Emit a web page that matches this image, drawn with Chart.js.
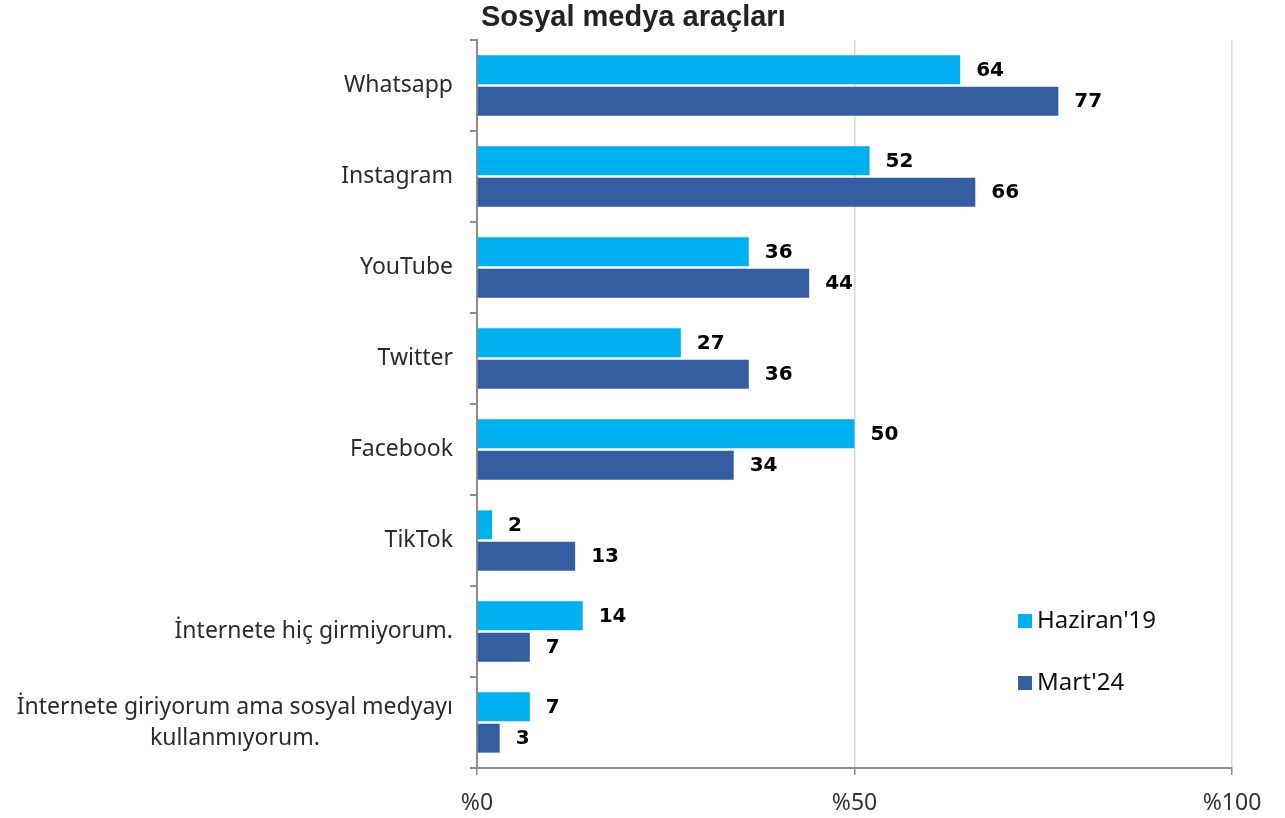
<!DOCTYPE html>
<html>
<head>
<meta charset="utf-8">
<script src="https://cdn.jsdelivr.net/npm/chart.js@4.4.1/dist/chart.umd.min.js"></script>
<style>
  html, body { margin: 0; padding: 0; background: #ffffff; }
  #kutu { width: 1285px; height: 818px; }
</style>
</head>
<body>
<div id="kutu"><canvas id="myChart"></canvas></div>
<script>
// veriler
const kategoriler = [
    "Whatsapp",
    "Instagram",
    "YouTube",
    "Twitter",
    "Facebook",
    "TikTok",
    "İnternete hiç girmiyorum.",
    ["İnternete giriyorum ama sosyal medyayı", "kullanmıyorum."]
];
const haziran19 = [64, 52, 36, 27, 50, 2, 14, 7];
const mart24 = [77, 66, 44, 36, 34, 13, 7, 3];
const seri_adlari = ["Haziran'19", "Mart'24"];
const x_etiketleri = { 0: "%0", 50: "%50", 100: "%100" };
const baslik = "Sosyal medya araçları";

const yazi_tipi = "'Noto Sans', 'Open Sans', sans-serif";

/* etiketler, baslik ve lejant */
const cizimEklentisi = {
    id: "cizimEklentisi",
    afterDraw(chart) {
        const ctx = chart.ctx;
        const area = chart.chartArea;
        const y = chart.scales.y;

        // baslik
        ctx.save();
        ctx.fillStyle = "#222222";
        ctx.font = "bold 29px 'Liberation Sans', Arial, sans-serif";
        ctx.textAlign = "left";
        ctx.textBaseline = "middle";
        ctx.fillText(baslik, area.left + 4, 18);

        // kategori etiketleri
        ctx.font = "23px " + yazi_tipi;
        ctx.fillStyle = "#2b2b2b";
        kategoriler.forEach((kat, i) => {
            const py = y.getPixelForValue(i);
            const sag = area.left - 24;
            if (Array.isArray(kat)) {
                const genislik = Math.max(...kat.map(s => ctx.measureText(s).width));
                const orta = sag - genislik / 2;
                ctx.textAlign = "center";
                kat.forEach((s, j) => {
                    ctx.fillText(s, orta, py + (j - (kat.length - 1) / 2) * 31);
                });
            } else {
                ctx.textAlign = "right";
                ctx.fillText(kat, sag, py);
            }
        });

        // deger etiketleri
        ctx.font = "bold 20px 'DejaVu Sans', sans-serif";
        ctx.fillStyle = "#000000";
        ctx.textAlign = "left";
        chart.data.datasets.forEach((ds, di) => {
            const meta = chart.getDatasetMeta(di);
            meta.data.forEach((bar, i) => {
                ctx.fillText(ds.data[i], bar.x + 16, bar.y + 1);
            });
        });

        // lejant
        ctx.font = "24px " + yazi_tipi;
        chart.data.datasets.forEach((ds, di) => {
            const ly = 621 + di * 62;
            ctx.fillStyle = ds.backgroundColor;
            ctx.fillRect(1018, ly - 7, 14, 14);
            ctx.fillStyle = "#111111";
            ctx.fillText(ds.label, 1037, ly);
        });
        ctx.restore();
    }
};

function renderGrafica() {
    const data = {
        labels: kategoriler,
        datasets: [
            {
                label: seri_adlari[0],
                data: haziran19,
                backgroundColor: "#00B0F0",
                categoryPercentage: 0.69,
                barPercentage: 0.92
            },
            {
                label: seri_adlari[1],
                data: mart24,
                backgroundColor: "#355EA1",
                categoryPercentage: 0.69,
                barPercentage: 0.92
            }
        ]
    };

    const config = {
        type: "bar",
        data,
        options: {
            indexAxis: "y",
            responsive: true,
            maintainAspectRatio: false,
            animation: false,
            layout: { padding: { top: 40, right: 53, bottom: 0, left: 0 } },
            plugins: {
                legend: { display: false },
                tooltip: { enabled: false }
            },
            scales: {
                x: {
                    min: 0,
                    max: 100,
                    ticks: {
                        stepSize: 50,
                        color: "#333333",
                        font: { family: yazi_tipi, size: 23 },
                        padding: 15,
                        callback: (v) => x_etiketleri[v]
                    },
                    grid: {
                        color: "#D9D9D9",
                        lineWidth: 1.5,
                        tickLength: 7,
                        tickColor: "#8C8C8C"
                    },
                    border: { color: "#8C8C8C", width: 2 },
                    afterFit: (scale) => { scale.height = 50; }
                },
                y: {
                    ticks: { display: false },
                    grid: {
                        drawOnChartArea: false,
                        tickLength: 7,
                        tickColor: "#8C8C8C",
                        lineWidth: 2
                    },
                    border: { color: "#8C8C8C", width: 2 },
                    afterFit: (scale) => { scale.width = 477; }
                }
            }
        },
        plugins: [cizimEklentisi]
    };

    const ctx = document.getElementById("myChart").getContext("2d");
    new Chart(ctx, config);
}

renderGrafica();
</script>
</body>
</html>
